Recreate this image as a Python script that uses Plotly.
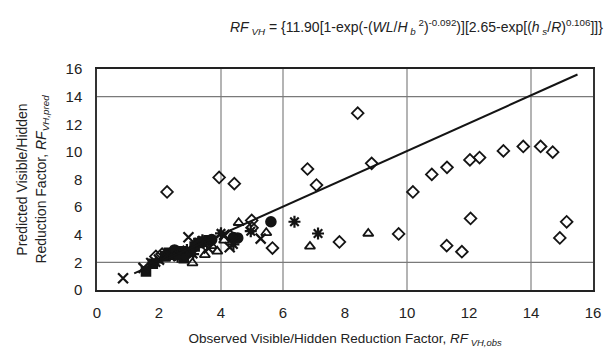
import plotly.graph_objects as go

# ---- data ----
diamond_x = [1.9, 2.26, 3.94, 4.43, 4.99, 5.66, 6.79, 7.08, 7.82, 8.41, 8.86, 9.73, 10.19, 10.8, 11.29,
             12.03, 12.34, 13.11, 13.75, 14.31, 14.7, 12.05, 11.28, 11.77, 14.93, 15.15, 2.1, 3.5, 4.3, 5.0]
diamond_y = [2.43, 7.1, 8.15, 7.7, 5.04, 3.04, 8.76, 7.6, 3.48, 12.8, 9.17, 4.06, 7.1, 8.37, 8.88,
             9.42, 9.59, 10.07, 10.39, 10.39, 9.98, 5.18, 3.21, 2.77, 3.77, 4.94, 2.6, 3.3, 3.9, 4.5]

triangle_x = [6.87, 4.57, 5.46, 3.08, 3.88, 3.48, 8.75, 2.2, 2.9, 4.1, 3.7]
triangle_y = [3.16, 4.87, 4.14, 1.95, 2.8, 2.55, 4.09, 2.3, 2.7, 3.6, 3.2]

cross_x = [0.84, 2.95, 5.28, 4.28, 1.5, 2.0, 2.4, 3.3, 4.1, 1.75, 3.6]
cross_y = [0.85, 3.82, 3.72, 3.09, 1.6, 2.2, 2.5, 3.4, 4.0, 1.95, 3.0]

star_x = [6.37, 7.13, 4.96, 4.0, 3.4, 2.6, 2.9, 1.9, 4.4, 3.1]
star_y = [4.94, 4.09, 4.26, 4.1, 3.6, 2.4, 2.9, 2.0, 3.3, 2.6]

square_x = [1.58, 2.32, 2.54, 3.27, 2.4, 2.7, 3.0, 3.4, 2.2, 1.8, 2.8, 3.6, 3.15]
square_y = [1.34, 2.7, 2.7, 3.4, 2.55, 2.8, 2.75, 3.5, 2.45, 1.9, 2.3, 3.6, 3.15]

circle_x = [5.61, 4.54, 4.4, 2.5, 3.7]
circle_y = [4.94, 3.77, 3.8, 2.9, 3.65]

line_x = [1.2, 15.5]
line_y = [1.2, 15.6]

x_ticks = [0, 2, 4, 6, 8, 10, 12, 14, 16]
y_ticks = [0, 2, 4, 6, 8, 10, 12, 14, 16]
x_grid = [4, 6, 10, 14]
y_grid = [2, 14]
axis_span = [0, 16]

INK = "#141414"
fig = go.Figure()

# light grid lines (only some are visible in the scanned original)
for gx in x_grid:
    fig.add_trace(go.Scatter(x=[gx, gx], y=axis_span, mode="lines",
                             line=dict(color="#8c8c8c", width=1.3), showlegend=False, hoverinfo="skip"))
for gy in y_grid:
    fig.add_trace(go.Scatter(x=axis_span, y=[gy, gy], mode="lines",
                             line=dict(color="#7a7a7a", width=1.3), showlegend=False, hoverinfo="skip"))

def add(x, y, symbol, size, lw=1.6):
    fig.add_trace(go.Scatter(x=x, y=y, mode="markers",
                             marker=dict(symbol=symbol, size=size, color=INK,
                                         line=dict(color=INK, width=lw)),
                             showlegend=False, hoverinfo="x+y"))

add(square_x, square_y, "square", 9)
add(circle_x, circle_y, "circle", 10)
add(cross_x, cross_y, "x-thin-open", 10, 2.2)
add(star_x, star_y, "asterisk-open", 10, 2.2)
add(triangle_x, triangle_y, "triangle-up-open", 9, 1.8)
add(diamond_x, diamond_y, "diamond-open", 9, 1.8)

fig.add_trace(go.Scatter(x=line_x, y=line_y, mode="lines",
                         line=dict(color=INK, width=2), showlegend=False))

font = "Liberation Sans, Arial, sans-serif"
fig.update_layout(
    width=613, height=358,
    margin=dict(l=97, r=12, t=69, b=68),
    paper_bgcolor="white", plot_bgcolor="white",
    font=dict(family=font, color="#222", size=13),
    xaxis=dict(range=[0, 16], tickvals=x_ticks, showgrid=False, zeroline=False,
               showline=True, linecolor="#222", linewidth=2, mirror=True,
               ticks="", tickfont=dict(size=15), ticklabelstandoff=8,
               title=dict(text="Observed Visible/Hidden Reduction Factor, <i>RF</i><sub><i> VH,obs</i></sub>",
                          font=dict(size=13.5), standoff=14)),
    yaxis=dict(range=[0, 16], tickvals=y_ticks, showgrid=False, zeroline=False,
               showline=True, linecolor="#333", linewidth=1.5, mirror=True,
               ticks="", tickfont=dict(size=15), ticklabelstandoff=10,
               title=dict(text="Predicted Visible/Hidden<br>Reduction Factor, <i>RF</i><sub><i>VH,pred</i></sub>",
                          font=dict(size=14), standoff=16)),
)

fig.add_annotation(
    x=0.645, y=1.0, xref="paper", yref="paper", yanchor="bottom", xanchor="center", yshift=30,
    showarrow=False,
    text="<i>RF</i><sub><i> VH</i></sub> = {11.90[1-exp(-(<i>WL</i>/<i>H</i><sub><i> b</i></sub><sup> 2</sup>)<sup>-0.092</sup>)][2.65-exp[(<i>h</i><sub><i> s</i></sub>/<i>R</i>)<sup>0.106</sup>]]}",
    font=dict(size=14, color="#222"))

fig.write_html("out.html")
